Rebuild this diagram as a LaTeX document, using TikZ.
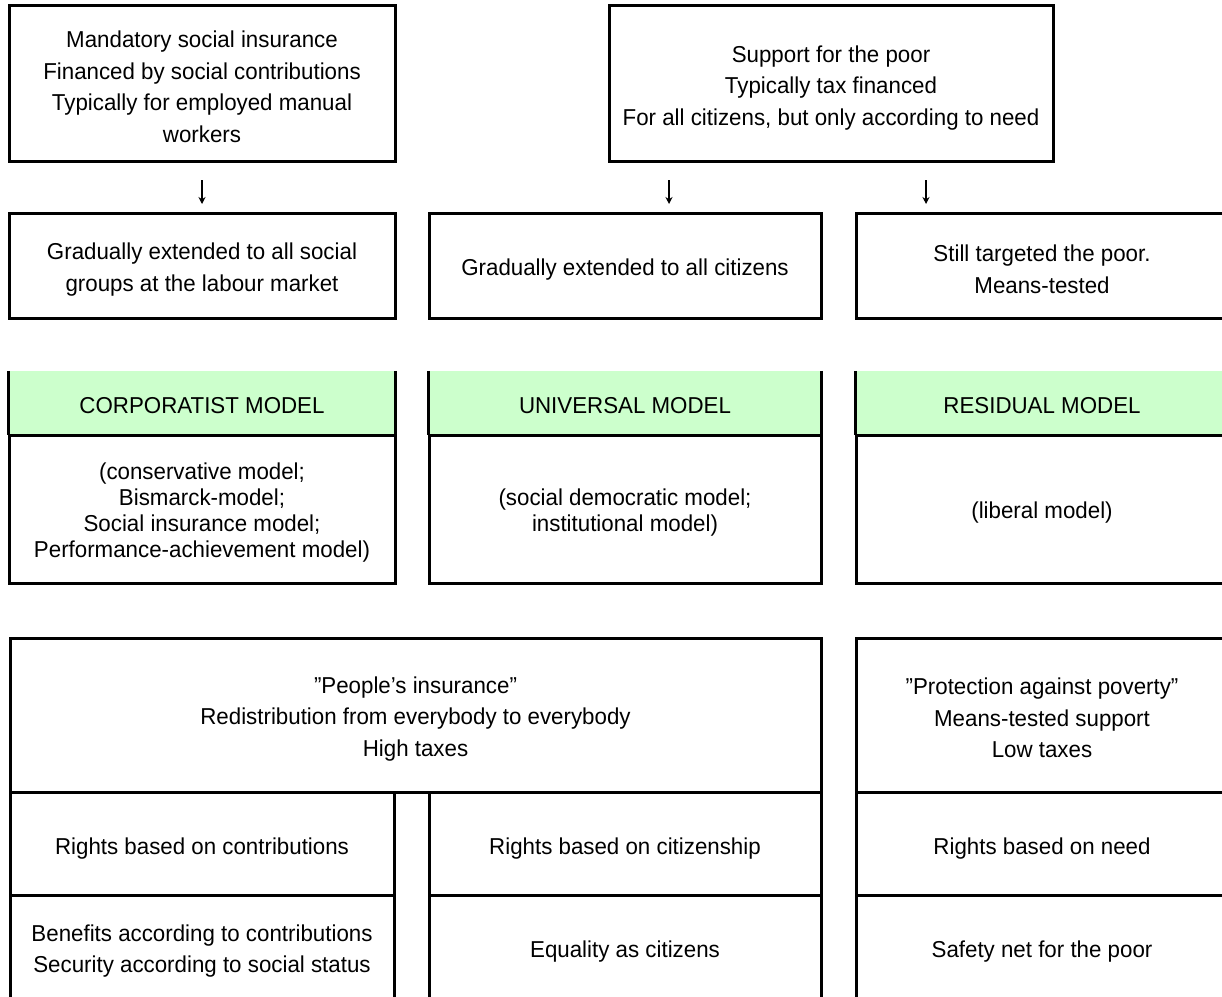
\documentclass[tikz,border=0pt]{standalone}
\usepackage{fontspec}
\setmainfont{Liberation Sans}[FakeStretch=0.97]
\usetikzlibrary{arrows.meta}
\definecolor{hdgreen}{RGB}{204,255,204}
\begin{document}
\begin{tikzpicture}[x=1pt,y=-1pt,
  frame/.style={draw=black, line width=3pt, inner sep=0pt},
  txt/.style={inner sep=0pt, align=center, font=\fontsize{23}{31.5}\selectfont},
  tighttxt/.style={txt, font=\fontsize{23}{26}\selectfont},
  head/.style={fill=hdgreen, inner sep=0pt},
  side/.style={draw=black, line width=3pt},
  arr/.style={line width=1.3pt, -{Stealth[length=7pt,width=7pt]}}
]
\useasboundingbox (0,0) rectangle (1222,996);
\clip (0,0) rectangle (1222,996);

% Row 1
\node[frame, minimum width=386pt, minimum height=156pt] (t1) at (202,83) {};
\node[txt] (t1t) at ([yshift=-4pt]t1.center)
  {Mandatory social insurance\\Financed by social contributions\\Typically for employed manual\\workers};
\node[frame, minimum width=444pt, minimum height=156pt] (t2) at (831,83) {};
\node[txt] (t2t) at ([yshift=-5pt]t2.center)
  {Support for the poor\\Typically tax financed\\For all citizens, but only according to need};

% Arrows
\coordinate (a1s) at (202,180); \coordinate (a1e) at (202,204);
\coordinate (a2s) at (669,180); \coordinate (a2e) at (669,204);
\coordinate (a3s) at (926,180); \coordinate (a3e) at (926,204);
\draw[arr] (a1s) -- (a1e);
\draw[arr] (a2s) -- (a2e);
\draw[arr] (a3s) -- (a3e);

% Row 2
\node[frame, minimum width=386pt, minimum height=105pt] (m1) at (202,265.5) {};
\node[txt] (m1t) at ([yshift=-4pt]m1.center)
  {Gradually extended to all social\\groups at the labour market};
\node[frame, minimum width=392pt, minimum height=105pt] (m2) at (625,265.5) {};
\node[txt] (m2t) at ([yshift=-4pt]m2.center)
  {Gradually extended to all citizens};
\node[frame, minimum width=372pt, minimum height=105pt] (m3) at (1042,265.5) {};
\node[txt] (m3t) at ([yshift=-4pt]m3.center)
  {Still targeted the poor.\\Means-tested};

% Row 3: models
\node[head, minimum width=386pt, minimum height=64pt] (h1) at (202,403) {};
\node[head, minimum width=392pt, minimum height=64pt] (h2) at (625,403) {};
\node[head, minimum width=372pt, minimum height=64pt] (h3) at (1042,403) {};
\foreach \h in {h1,h2,h3}{
  \draw[side] (\h.north west) -- (\h.south west);
  \draw[side] (\h.north east) -- (\h.south east);
}
\node[tighttxt] (h1t) at ([yshift=-3pt]h1.center) {CORPORATIST MODEL};
\node[tighttxt] (h2t) at ([yshift=-3pt]h2.center) {UNIVERSAL MODEL};
\node[tighttxt] (h3t) at ([yshift=-3pt]h3.center) {RESIDUAL MODEL};

\node[frame, minimum width=386pt, minimum height=148pt] (b1) at (202,509) {};
\node[tighttxt] (b1t) at ([yshift=-4pt]b1.center)
  {(conservative model;\\Bismarck-model;\\Social insurance model;\\Performance-achievement model)};
\node[frame, minimum width=392pt, minimum height=148pt] (b2) at (625,509) {};
\node[tighttxt] (b2t) at ([yshift=-4pt]b2.center)
  {(social democratic model;\\institutional model)};
\node[frame, minimum width=372pt, minimum height=148pt] (b3) at (1042,509) {};
\node[tighttxt] (b3t) at ([yshift=-4pt]b3.center)
  {(liberal model)};

% Row 4
\node[frame, minimum width=811pt, minimum height=154pt] (p1) at (415.5,715) {};
\node[txt] (p1t) at ([yshift=-4pt]p1.center)
  {”People’s insurance”\\Redistribution from everybody to everybody\\High taxes};
\node[frame, minimum width=372pt, minimum height=154pt] (p2) at (1042,715) {};
\node[txt] (p2t) at ([yshift=-3pt]p2.center)
  {”Protection against poverty”\\Means-tested support\\Low taxes};
\node[frame, minimum width=384pt, minimum height=103pt] (q1) at (202,843.5) {};
\node[txt] (q1t) at ([yshift=-5pt]q1.center) {Rights based on contributions};
\node[frame, minimum width=392pt, minimum height=103pt] (q2) at (625,843.5) {};
\node[txt] (q2t) at ([yshift=-5pt]q2.center) {Rights based on citizenship};
\node[frame, minimum width=372pt, minimum height=103pt] (q3) at (1042,843.5) {};
\node[txt] (q3t) at ([yshift=-5pt]q3.center) {Rights based on need};
\node[frame, minimum width=384pt, minimum height=108pt] (s1) at (202,949) {};
\node[txt] (s1t) at ([yshift=-2pt]s1.center)
  {Benefits according to contributions\\Security according to social status};
\node[frame, minimum width=392pt, minimum height=108pt] (s2) at (625,949) {};
\node[txt] (s2t) at ([yshift=-3pt]s2.center) {Equality as citizens};
\node[frame, minimum width=372pt, minimum height=108pt] (s3) at (1042,949) {};
\node[txt] (s3t) at ([yshift=-3pt]s3.center) {Safety net for the poor};
\end{tikzpicture}
\end{document}
